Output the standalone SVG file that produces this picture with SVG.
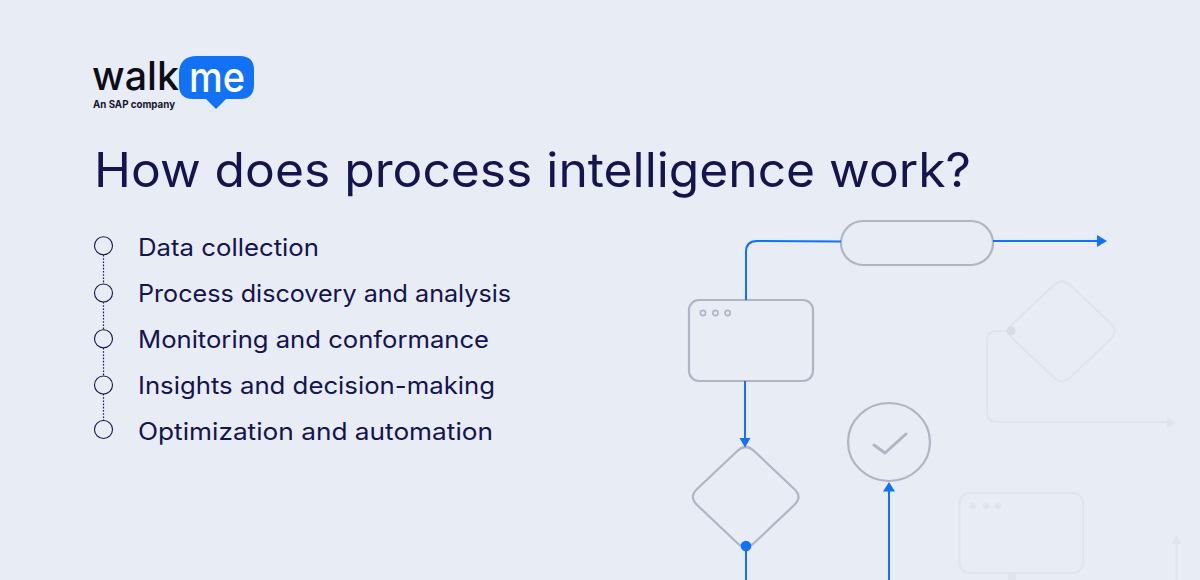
<svg xmlns="http://www.w3.org/2000/svg" width="1200" height="580" viewBox="0 0 1200 580">
<style>
.bg{fill:#e8ecf4}
.node{fill:none;stroke:#b0b5c4;stroke-width:2.2}
.faint{fill:none;stroke:#e0e4ed;stroke-width:2.2}
.wire{fill:none;stroke:#1272f5;stroke-width:2}
.fwire{fill:none;stroke:#e0e4ed;stroke-width:2}
.t{font-family:"Inter","Noto Sans",sans-serif;fill:#14144f}
.item{font-size:24px}
.bullet{fill:none;stroke:#14144f;stroke-width:1.1}
.dots{stroke:#14144f;stroke-width:1.2;stroke-dasharray:1.6 1.6;fill:none}
</style>
<defs>
<path id="dia" d="M737.300 451Q745.700 443 754.100 451L794.300 489Q802.700 497 794.300 505L754.100 543Q745.700 551 737.300 543L697.100 505Q688.700 497 697.100 489Z"/>
</defs>
<rect class="bg" width="1200" height="580"/>
<g id="logo">
<path d="M197 56H240Q254 56 254 70V85Q254 99 240 99H226L216 109L206 99H193Q179 99 179 85V74Q179 56 197 56Z" fill="#1272f5"/>
<text x="92" y="90" textLength="87" lengthAdjust="spacingAndGlyphs" style="font-family:Inter,sans-serif;font-size:40px;font-weight:500;fill:#0d0d1a">walk</text>
<text x="189" y="92" textLength="56" lengthAdjust="spacingAndGlyphs" style="font-family:Inter,sans-serif;font-size:42px;font-weight:500;fill:#fff">me</text>
<text x="93" y="108" textLength="82" lengthAdjust="spacingAndGlyphs" style="font-family:Inter,sans-serif;font-size:10px;font-weight:700;fill:#14142a">An SAP company</text>
</g>
<text id="title" class="t" x="94" y="187" font-size="48" textLength="877" lengthAdjust="spacingAndGlyphs">How does process intelligence work?</text>
<g id="list-line"><path class="dots" d="M103.500 255V284M103.500 302V330M103.500 348V376M103.500 394V421"/></g>
<g id="item1"><circle class="bullet" cx="103.500" cy="245.700" r="9"/><text class="t item" x="138" y="256" textLength="181" lengthAdjust="spacingAndGlyphs">Data collection</text></g>
<g id="item2"><circle class="bullet" cx="103.500" cy="293" r="9"/><text class="t item" x="138" y="302" textLength="373" lengthAdjust="spacingAndGlyphs">Process discovery and analysis</text></g>
<g id="item3"><circle class="bullet" cx="103.500" cy="338.700" r="9"/><text class="t item" x="138" y="348" textLength="351" lengthAdjust="spacingAndGlyphs">Monitoring and conformance</text></g>
<g id="item4"><circle class="bullet" cx="103.500" cy="385" r="9"/><text class="t item" x="138" y="394" textLength="357" lengthAdjust="spacingAndGlyphs">Insights and decision-making</text></g>
<g id="item5"><circle class="bullet" cx="103.500" cy="429.500" r="9"/><text class="t item" x="138" y="440" textLength="355" lengthAdjust="spacingAndGlyphs">Optimization and automation</text></g>
<g id="pill"><rect class="node" x="841" y="221" width="152" height="44" rx="22"/></g>
<g id="window"><rect class="node" x="689" y="300" width="124" height="81" rx="10"/>
<g class="node" style="stroke-width:1.600"><circle cx="703" cy="313" r="2.600"/><circle cx="715.500" cy="313" r="2.600"/><circle cx="727.700" cy="313" r="2.600"/></g></g>
<g id="decision"><use href="#dia" class="node"/></g>
<g id="done"><ellipse class="node" cx="889" cy="442" rx="41" ry="39"/><path d="M874 445L885 453L906 434" fill="none" stroke="#b0b5c4" stroke-width="3" stroke-linecap="round" stroke-linejoin="round"/></g>
<g id="faint-decision"><use href="#dia" class="faint" transform="translate(316.300 -165.700)"/></g>
<g id="faint-window"><rect class="faint" x="959.500" y="493" width="123.500" height="80" rx="10"/>
<g fill="#e0e4ed"><circle cx="973" cy="506" r="3"/><circle cx="986" cy="506" r="3"/><circle cx="998" cy="506" r="3"/></g></g>
<g id="connectors">
<path class="wire" d="M841 241.500L757 241Q746 241 746 252V300"/>
<path class="wire" d="M745 381V440"/>
<path d="M739.500 438H750.500L745 447.500Z" fill="#1272f5"/>
<circle cx="746" cy="546" r="5.300" fill="#1272f5"/>
<path class="wire" d="M746 546V580"/>
<path class="wire" d="M889 580V490"/>
<path d="M883 491.500H895L889 482Z" fill="#1272f5"/>
<path class="wire" d="M993 241H1100"/>
<path d="M1097 235L1107 241L1097 247Z" fill="#1272f5"/>
<path class="fwire" d="M1010 331H997Q987 331 987 341V412Q987 422 997 422H1170"/>
<path d="M1167 417L1176 422.500L1167 428Z" fill="#e0e4ed"/>
<circle cx="1011" cy="331" r="4.500" fill="#d8dce6"/>
<path class="fwire" d="M1176.500 580V542"/>
<path d="M1171.500 544H1181.500L1176.500 535Z" fill="#e0e4ed"/>
<rect x="1008" y="572" width="8" height="8" fill="#e0e4ed"/>
</g>
</svg>
